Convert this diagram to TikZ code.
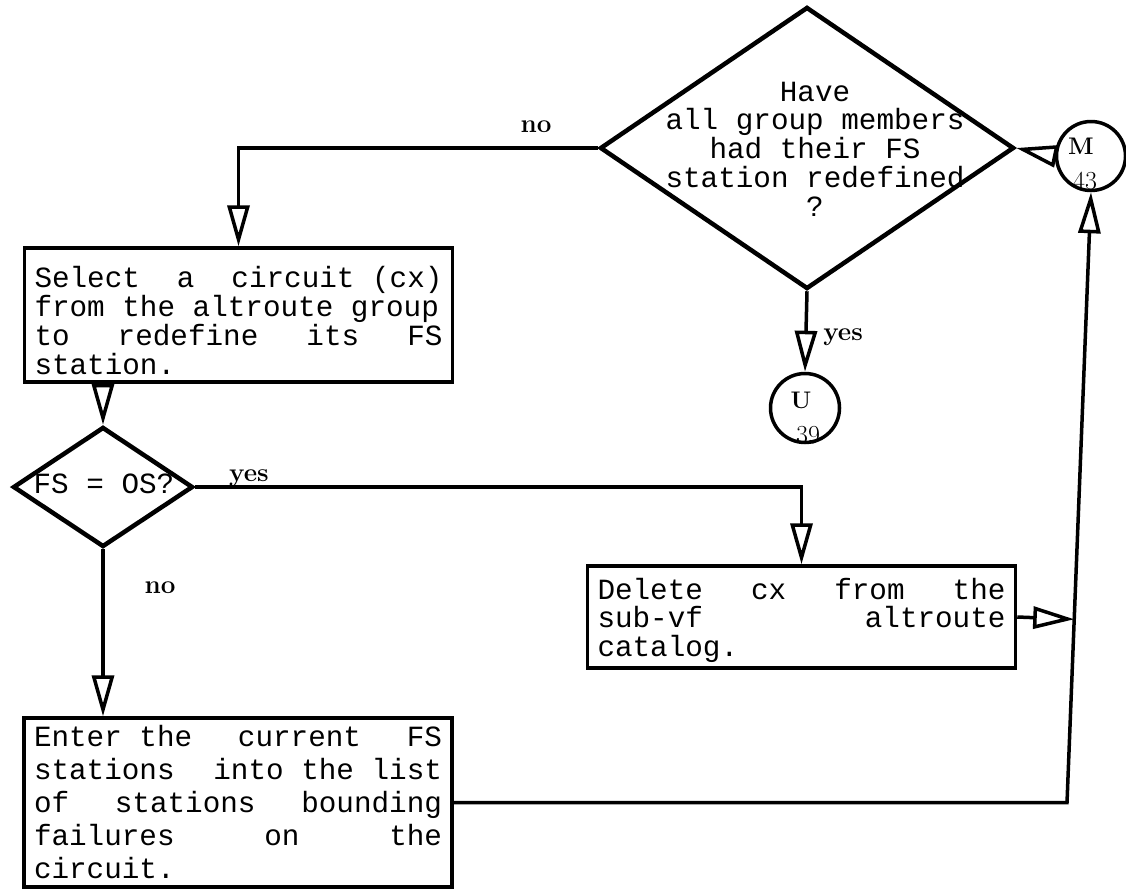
\documentclass[tikz,border=0pt]{standalone}
\usepackage{fontspec}
\usepackage{tikz}
\usetikzlibrary{shapes.geometric,arrows.meta,positioning,calc}

\newfontfamily\typewriter{Liberation Mono}
\newcommand{\typeface}{\typewriter\fontsize{29.3}{28.8}\selectfont}
\newcommand{\typefaceloose}{\typewriter\fontsize{29.3}{33}\selectfont}
\newcommand{\answerface}{\rmfamily\bfseries\fontsize{26}{26}\selectfont}
\newcommand{\pageface}{\rmfamily\fontsize{26}{26}\selectfont}
\newcommand{\pageletter}{\rmfamily\bfseries\fontsize{24}{24}\selectfont}
\newcommand{\fullspaces}{\spaceskip=0pt\xspaceskip=0pt\relax}

\tikzset{
  procbox/.style={draw, line width=3.5pt, inner xsep=10pt, text width=408pt, align=left, font=\typeface},
  decision/.style={diamond, draw, line width=4.5pt, inner sep=0pt},
  offpage/.style={circle, draw, line width=3.5pt, minimum size=69pt, inner sep=0pt},
  flow/.style={line width=3.5pt, -{Triangle[open, length=41pt, width=22pt]}},
  answer/.style={font=\answerface, anchor=base}
}

\begin{document}
\begin{tikzpicture}[x=1pt, y=-1pt]
\useasboundingbox (0,0) rectangle (1126,889);

\node[decision, minimum width=414pt, minimum height=282pt] (q1) at (807,148) {};
\node[font=\typeface, align=center] (q1text) at (815,149) {\fullspaces Have\\all group members\\had their FS\\station redefined\\?};

\node[decision, minimum width=180pt, minimum height=120pt] (q2) at (103,487) {};
\node[font=\typeface] (q2text) at (104,484) {FS = OS?};

\node[procbox, minimum height=134pt] (select) at (238.5,315) {\fullspaces\rule{0pt}{32pt}Select\hfill a\hfill circuit (cx)\\from the altroute group\\to\hfill redefine\hfill its\hfill FS\\station.};
\node[procbox, minimum height=102pt] (delete) at (801.5,617) {\fullspaces\rule{0pt}{28pt}Delete\hfill cx\hfill from\hfill the\\sub-vf\hfill altroute\\catalog.};
\node[procbox, minimum height=169pt, font=\typefaceloose] (enter) at (238,802.5) {\fullspaces Enter the\hfill current\hfill FS\\stations\hfill into the list\\of\hfill stations\hfill bounding\\failures\hfill on\hfill the\\circuit.};

\node[offpage] (u39) at (805,408) {};
\node[font=\pageletter] (u39letter) at ($(u39)+(-4,-8)$) {U};
\node[font=\pageface] (u39num) at ($(u39)+(3,27)$) {39};
\node[offpage] (m43) at (1091,156) {};
\node[font=\pageletter] (m43letter) at ($(m43)+(-10,-10)$) {M};
\node[font=\pageface] (m43num) at ($(m43)+(-6,25)$) {43};

\draw[flow] (q1.west) -| (select.north);
\node[answer] (noleft) at (536,132) {no};
\draw[flow] (q1.south) -- (u39.north);
\node[answer] (yesdown) at (843,340) {yes};
\draw[flow] (select.south -| q2.north) -- (q2.north);
\draw[flow] (q2.east) -| (delete.north);
\node[answer] (yesright) at (249,481) {yes};
\draw[flow] (q2.south) -- (q2.south |- enter.north);
\node[answer] (nodown) at (160,593) {no};

\coordinate (bend) at (1067,802.5);
\coordinate (join) at ($(bend)!(delete.east)!(m43.south)$);
\draw[flow] (enter.east) -- (bend) -- (m43.south);
\draw[flow] (delete.east) -- (join);
\draw[flow] (m43.west) -- (q1.east);
\end{tikzpicture}
\end{document}
